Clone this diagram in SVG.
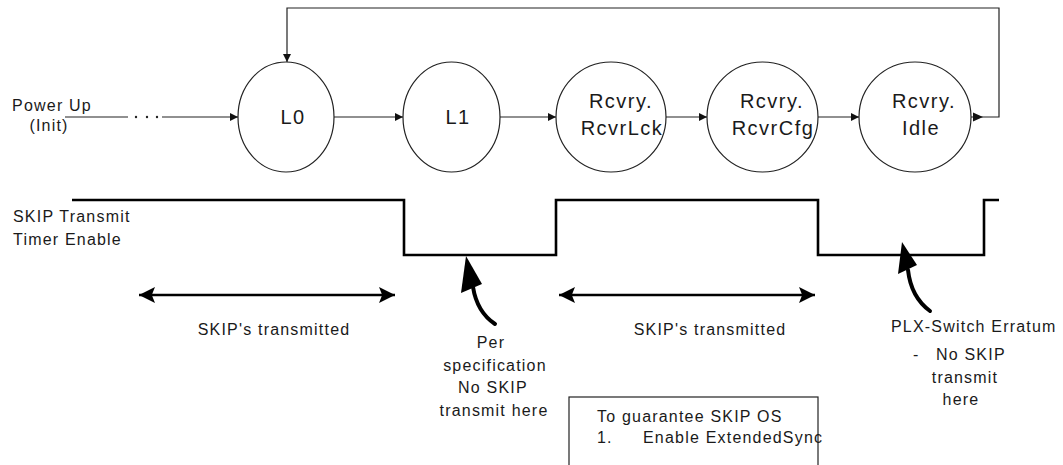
<svg xmlns="http://www.w3.org/2000/svg" width="1063" height="465" viewBox="0 0 1063 465">
<defs>
<marker id="ah" viewBox="0 0 10 10" refX="10" refY="5" markerWidth="9" markerHeight="8" markerUnits="userSpaceOnUse" orient="auto"><path d="M0,0 L10,5 L0,10 z" fill="#111"/></marker>
<marker id="big" viewBox="0 0 10 10" refX="10" refY="5" markerWidth="16" markerHeight="17" markerUnits="userSpaceOnUse" orient="auto-start-reverse"><path d="M0,0 L10,5 L0,10 L2,5 z" fill="#000"/></marker>
<style>
.n{fill:#fff;stroke:#222;stroke-width:1.2}
.c{fill:none;stroke:#222;stroke-width:1.2}
.t{font-family:"Liberation Sans",Arial,sans-serif;fill:#1a1a1a}
.nt{font-size:20px;letter-spacing:1.5px;text-anchor:middle}
.st{font-size:16px;letter-spacing:1.2px}
.m{text-anchor:middle}
.w{fill:none;stroke:#000;stroke-width:2.6}
.da{fill:none;stroke:#000;stroke-width:2.6}
</style>
</defs>
<rect width="1063" height="465" fill="#fff"/>

<g id="connectors">
<path class="c" d="M65,117 H128"/>
<circle cx="136" cy="117" r="1.2" fill="#222"/>
<circle cx="147" cy="117" r="1.2" fill="#222"/>
<circle cx="157" cy="117" r="1.2" fill="#222"/>
<path class="c" d="M162,117 H238" marker-end="url(#ah)"/>
<path class="c" d="M334,117 H403" marker-end="url(#ah)"/>
<path class="c" d="M500,117 H556" marker-end="url(#ah)"/>
<path class="c" d="M666,117 H707" marker-end="url(#ah)"/>
<path class="c" d="M818,117 H859" marker-end="url(#ah)"/>
<path class="c" d="M971,117 H999 V8 H287 V62" marker-end="url(#ah)"/>
<polygon points="983,117 973,112.5 973,121.5" fill="#111"/>
</g>

<g id="node-L0"><ellipse class="n" cx="286" cy="117" rx="48" ry="55"/><text class="t nt" x="293" y="124">L0</text></g>
<g id="node-L1"><ellipse class="n" cx="451.5" cy="117" rx="48.5" ry="55"/><text class="t nt" x="458" y="124">L1</text></g>
<g id="node-RcvrLck"><ellipse class="n" cx="611" cy="117" rx="55" ry="55"/><text class="t nt" x="621" y="108">Rcvry.</text><text class="t nt" x="622" y="135">RcvrLck</text></g>
<g id="node-RcvrCfg"><ellipse class="n" cx="762.5" cy="117" rx="55.5" ry="55"/><text class="t nt" x="772" y="108">Rcvry.</text><text class="t nt" x="773" y="135">RcvrCfg</text></g>
<g id="node-Idle"><ellipse class="n" cx="915" cy="117" rx="56" ry="55"/><text class="t nt" x="924" y="108">Rcvry.</text><text class="t nt" x="921" y="135">Idle</text></g>

<g id="power-up">
<text class="t st m" x="52" y="111">Power Up</text>
<text class="t st m" x="49" y="131">(Init)</text>
</g>

<g id="waveform">
<path class="w" d="M72,200 H404 V255 H556 V200 H818 V255 H984 V200 H999"/>
<text class="t st" x="13" y="222">SKIP Transmit</text>
<text class="t st" x="13" y="245">Timer Enable</text>
</g>

<g id="spans">
<path class="da" d="M139,295 H395" marker-start="url(#big)" marker-end="url(#big)"/>
<text class="t st m" x="274" y="335">SKIP's transmitted</text>
<path class="da" d="M559,295 H815" marker-start="url(#big)" marker-end="url(#big)"/>
<text class="t st m" x="710" y="335">SKIP's transmitted</text>
</g>

<g id="note-spec">
<path d="M495,324 Q477,312 473,287" fill="none" stroke="#000" stroke-width="4" stroke-linecap="round"/>
<polygon points="466,256 461,293 482,284" fill="#000"/>
<text class="t st m" x="491" y="348">Per</text>
<text class="t st m" x="495" y="371">specification</text>
<text class="t st m" x="493" y="393">No SKIP</text>
<text class="t st m" x="494" y="416">transmit here</text>
</g>

<g id="note-erratum">
<path d="M930,311 Q911,297 908,270" fill="none" stroke="#000" stroke-width="4" stroke-linecap="round"/>
<polygon points="902,242 898,274 917,265" fill="#000"/>
<text class="t st" x="891" y="332">PLX-Switch Erratum</text>
<text class="t st" x="913" y="360">-</text>
<text class="t st" x="936" y="360">No SKIP</text>
<text class="t st m" x="965" y="383">transmit</text>
<text class="t st m" x="961" y="405">here</text>
</g>

<g id="box">
<rect x="569" y="397" width="249" height="80" fill="#fff" stroke="#222" stroke-width="1.2"/>
<text class="t st" x="597" y="422">To guarantee SKIP OS</text>
<text class="t st" x="597" y="443">1.</text>
<text class="t st" x="643" y="443">Enable ExtendedSync</text>
</g>
</svg>
